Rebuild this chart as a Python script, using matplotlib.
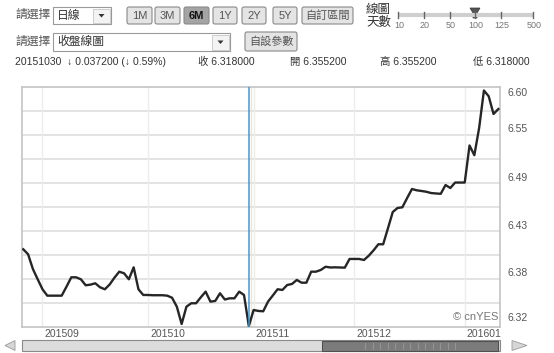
import numpy as np
import pandas as pd
import matplotlib.pyplot as plt
from matplotlib import transforms
from matplotlib.patches import Rectangle, FancyBboxPatch, Polygon

plt.rcParams['font.family'] = ['Liberation Sans', 'DejaVu Sans', 'Noto Sans CJK TC']

# 100 trading days (weekdays) ending 2016-01-12
dates = pd.bdate_range('2015-08-26', periods=100)
close = [
    6.4078, 6.4020, 6.3847, 6.3727, 6.3610, 6.3535, 6.3535, 6.3535, 6.3535, 6.3640,
    6.3750, 6.3750, 6.3727, 6.3657, 6.3664, 6.3680, 6.3633, 6.3610, 6.3666, 6.3746,
    6.3816, 6.3797, 6.3727, 6.3867, 6.3610, 6.3543, 6.3543, 6.3540, 6.3540, 6.3540,
    6.3535, 6.3511, 6.3406, 6.3203, 6.3406, 6.3446, 6.3446, 6.3516, 6.3582, 6.3465,
    6.3473, 6.3563, 6.3490, 6.3504, 6.3504, 6.3582, 6.3543, 6.3180, 6.3367, 6.3356,
    6.3352, 6.3465, 6.3537, 6.3610, 6.3602, 6.3660, 6.3672, 6.3719, 6.3687, 6.3687,
    6.3816, 6.3816, 6.3836, 6.3874, 6.3865, 6.3867, 6.3865, 6.3863, 6.3965, 6.3965,
    6.3965, 6.3953, 6.4003, 6.4066, 6.4137, 6.4137, 6.4324, 6.4515, 6.4562, 6.4570,
    6.4679, 6.4784, 6.4769, 6.4761, 6.4752, 6.4737, 6.4732, 6.4728, 6.4831, 6.4796,
    6.4860, 6.4860, 6.4860, 6.5294, 6.5180, 6.5499, 6.5938, 6.5870, 6.5663, 6.5721,
]
cursor_date = '2015-10-30'

y_min, y_max = 6.3168, 6.5979
y_labels = ['6.32', '6.38', '6.43', '6.49', '6.55', '6.60']

period_buttons = ['1M', '3M', '6M', '1Y', '2Y', '5Y', '自訂區間']
selected_period = '6M'
day_options = ['10', '20', '50', '100', '125', '500']
selected_days = '100'

info_date = '20151030  ↓ 0.037200 (↓ 0.59%)'
info_fields = ['收 6.318000', '開 6.355200', '高 6.355200', '低 6.318000']

W, H = 554, 353
fig = plt.figure(figsize=(W / 100, H / 100), dpi=100)

# pixel-space layer for the page controls
ui = fig.add_axes([0, 0, 1, 1])
ui.set_xlim(0, W)
ui.set_ylim(H, 0)
ui.axis('off')

CJK = 8.5
NUM = 7.5


def button(x0, x1, y0, y1, label, on=False):
    ui.add_patch(FancyBboxPatch((x0, y0), x1 - x0, y1 - y0,
                                boxstyle='round,pad=0,rounding_size=2',
                                fc='#a4a4a4' if on else '#e4e4e4',
                                ec='#8a8a8a', lw=0.8))
    ui.text((x0 + x1) / 2, (y0 + y1) / 2 + 0.5, label, ha='center', va='center',
            fontsize=8, color='#111' if on else '#555',
            fontweight='bold' if on else 'normal')


def dropdown(x0, x1, y0, y1, label):
    cy = (y0 + y1) / 2
    ui.add_patch(Rectangle((x0, y0), x1 - x0, y1 - y0, fc='white', ec='#9a9a9a', lw=0.8))
    ui.add_patch(Rectangle((x1 - 18, y0 + 1.5), 16.5, y1 - y0 - 3, fc='#f3f3f3', ec='#c6c6c6', lw=0.6))
    ui.add_patch(Polygon([[x1 - 12.5, cy - 1.5], [x1 - 6.5, cy - 1.5], [x1 - 9.5, cy + 2]], fc='#333', ec='none'))
    ui.text(x0 + 4, cy, label, ha='left', va='center', fontsize=CJK, color='#333')


# row 1
ui.text(15, 15, '請選擇', ha='left', va='center', fontsize=CJK, color='#555')
dropdown(53, 111, 7, 24, '日線')
btn_x = [(127, 152), (155, 180), (184, 209), (213, 237), (242, 266), (273, 297), (302, 353)]
for (x0, x1), lab in zip(btn_x, period_buttons):
    button(x0, x1, 7, 24, lab, on=(lab == selected_period))

# day slider
ui.text(366, 10, '線圖', ha='left', va='center', fontsize=9, color='#333')
ui.text(366, 23, '天數', ha='left', va='center', fontsize=9, color='#333')
ui.plot([398, 533], [15, 15], color='#cfcfcf', lw=3, solid_capstyle='butt')
slider_x = [398, 424, 450, 475, 501, 533]
for sx, lab in zip(slider_x, day_options):
    ui.plot([sx, sx], [12, 18], color='#666', lw=1)
    ui.text(sx + 1, 25, lab, ha='center', va='center', fontsize=6.5, color='#777')
    if lab == selected_days:
        ui.add_patch(Polygon([[sx - 5, 8], [sx + 5, 8], [sx + 2, 13], [sx + 2, 18],
                              [sx - 2, 18], [sx - 2, 13]], fc='#555', ec='#333', lw=0.5))

# row 2
ui.text(15, 42, '請選擇', ha='left', va='center', fontsize=CJK, color='#555')
dropdown(53, 230, 33, 51, '收盤線圖')
button(245, 297, 32, 51, '自設參數')

# row 3
ui.text(15, 62, info_date, ha='left', va='center', fontsize=NUM, color='#333')
for fx, txt in zip([198, 290, 380, 473], info_fields):
    ui.text(fx, 62, txt, ha='left', va='center', fontsize=NUM, color='#333')

# bottom scroller
ui.add_patch(Polygon([[5, 345.5], [15, 340.5], [15, 350.5]], fc='#d6d6d6', ec='#9a9a9a', lw=0.6))
ui.add_patch(Rectangle((22, 340), 478, 11, fc='#dcdcdc', ec='#8a8a8a', lw=0.8))
ui.add_patch(Rectangle((322, 340.5), 176, 10, fc='#7b7b7b', ec='#505050', lw=0.8))
for gx in np.arange(365, 457, 7.5):
    ui.plot([gx, gx], [342.5, 348.5], color='#9a9a9a', lw=0.6)
ui.add_patch(Polygon([[527, 345.5], [512, 340.5], [512, 350.5]], fc='#d6d6d6', ec='#9a9a9a', lw=0.6))

# chart
ax = fig.add_axes([22 / W, 1 - 327 / H, 478 / W, 240 / H])
x = np.arange(len(close))
ax.plot(x, close, color='#262626', lw=1.7, zorder=4, solid_joinstyle='round')
ax.set_xlim(-0.27, len(close) - 1 + 0.35)
ax.set_ylim(y_min, y_max)

for v in np.linspace(y_min, y_max, 11)[1:-1]:
    ax.axhline(v, color='#dedede', lw=1.2, zorder=1)

month_idx = [i for i in range(1, len(dates)) if dates[i].month != dates[i - 1].month]
month_lab = [dates[i].strftime('%Y%m') for i in month_idx]
for i in month_idx:
    ax.axvline(i, color='#ececec', lw=1, zorder=1)

ci = dates.get_loc(pd.Timestamp(cursor_date))
ax.axvline(ci + 0.5, color='#f7e4c4', lw=1, zorder=2)
ax.axvline(ci, color='#3b9ad8', lw=1.1, zorder=5)

for s in ax.spines.values():
    s.set_color('#c4c4c4')
    s.set_linewidth(1.2)

ax.set_xticks(month_idx)
ax.set_xticklabels(month_lab, ha='left', fontsize=NUM, color='#555')
ax.tick_params(axis='x', length=0, pad=1.5)
shift = transforms.ScaledTranslation(0.02, 0, fig.dpi_scale_trans)
for lab in ax.get_xticklabels():
    lab.set_transform(lab.get_transform() + shift)
ax.set_yticks([])

lift = [9, 6, 5, 5, 6, -6]
for v, s, d in zip(np.linspace(y_min, y_max, 6), y_labels, lift):
    tr = (transforms.blended_transform_factory(ax.transAxes, ax.transData)
          + transforms.ScaledTranslation(0, d / 100, fig.dpi_scale_trans))
    ax.text(1.015, v, s, transform=tr, ha='left', va='center',
            fontsize=NUM, color='#555', clip_on=False)

ax.text(0.996, 0.043, '© cnYES', transform=ax.transAxes, ha='right', va='center',
        fontsize=8, color='#777', zorder=6)

fig.savefig('out.png', dpi=100)
